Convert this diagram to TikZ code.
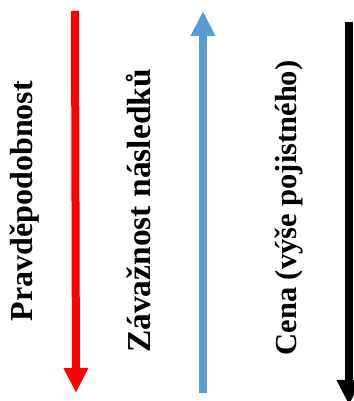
\documentclass[tikz,border=0pt]{standalone}
\usepackage{fontspec}
\setmainfont{Liberation Serif}
\usetikzlibrary{arrows.meta}
\definecolor{axisblue}{RGB}{91,155,213}
\begin{document}
\begin{tikzpicture}%
	[
	x=1pt,
	y=1pt,
	scale=1,
	axis/.style={line width=8pt, -{Triangle[width=23pt,length=25pt]}},
	label/.style={rotate=90, font=\bfseries, inner sep=0pt}]

\useasboundingbox (0,0) rectangle (353,401);

\coordinate (probtop) at (75,390);
\coordinate (probend) at (76,8);
\coordinate (sevbot) at (203,8);
\coordinate (sevend) at (203,390);
\coordinate (costtop) at (349,379);
\coordinate (costend) at (349,-4);

\draw[axis, red] (probtop) -- (probend);
\draw[axis, axisblue] (sevbot) -- (sevend);
\draw[axis, black] (costtop) -- (costend);

\node[label, font=\fontsize{32}{36}\selectfont\bfseries] (prob) at (25,200) {Pravděpodobnost};
\node[label, font=\fontsize{33.5}{38}\selectfont\bfseries] (sev) at (139,190) {Závažnost následků};
\node[label, font=\fontsize{30.5}{35}\selectfont\bfseries] (cost) at (289,193) {Cena (výše pojistného)};
\end{tikzpicture}
\end{document}
